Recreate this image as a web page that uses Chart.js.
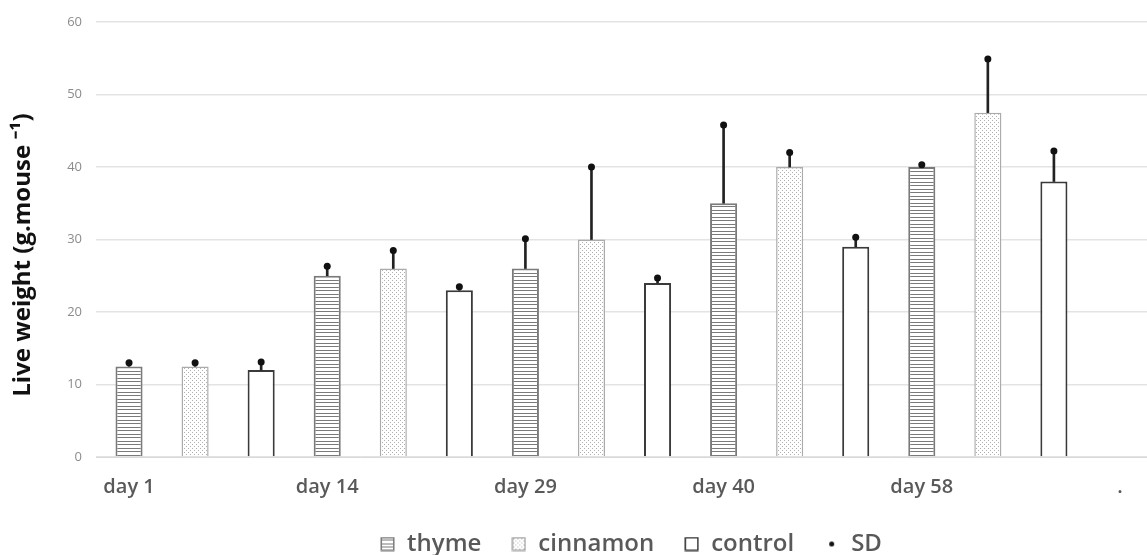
<!DOCTYPE html>
<html>
<head>
<meta charset="utf-8">
<script src="https://cdn.jsdelivr.net/npm/chart.js@4/dist/chart.umd.min.js"></script>
<style>
  html, body { margin: 0; padding: 0; background: #fff; overflow: hidden; }
  #wrap { width: 1160px; height: 568px; }
</style>
</head>
<body>
<div id="wrap"><canvas id="wykres"></canvas></div>
<script>
// dane
var tickLabels = ['day 1', '', '', 'day 14', '', '', 'day 29', '', '', 'day 40', '', '', 'day 58', '', '', '.'];
var thyme = [12.5, 25, 26, 35, 40];
var thymeSD = [0.5, 1.3, 4.1, 10.8, 0.3];
var cinnamon = [12.5, 26, 30, 40, 47.5];
var cinnamonSD = [0.5, 2.5, 10, 2, 7.4];
var control = [12, 23, 24, 29, 38];
var controlSD = [1.1, 0.5, 0.7, 1.3, 4.2];

Chart.defaults.font.family = "'Open Sans', sans-serif";

// rozklada 5 wartosci na 16 kategorii (co trzecia)
function rozloz(vals, off) {
	var out = [];
	for (var i = 0; i < tickLabels.length; i++) out.push(null);
	vals.forEach(function(v, i) { out[i * 3 + off] = v; });
	return out;
}

var stems = [];
var dots = [];
for (var i = 0; i < tickLabels.length; i++) { stems.push(null); dots.push(null); }
[[thyme, thymeSD, 0], [cinnamon, cinnamonSD, 1], [control, controlSD, 2]].forEach(function(s) {
	s[0].forEach(function(v, i) {
		stems[i * 3 + s[2]] = [v, v + s[1][i]];
		dots[i * 3 + s[2]] = v + s[1][i];
	});
});

// wzory wypelnienia
function paski() {
	var c = document.createElement('canvas');
	c.width = 4; c.height = 7;
	var g = c.getContext('2d');
	g.fillStyle = '#fff'; g.fillRect(0, 0, 4, 7);
	g.fillStyle = '#7a7a7a'; g.fillRect(0, 0, 4, 1); g.fillRect(0, 3, 4, 1);
	return c;
}
function kropki() {
	var c = document.createElement('canvas');
	c.width = 4; c.height = 4;
	var g = c.getContext('2d');
	g.fillStyle = '#fff'; g.fillRect(0, 0, 4, 4);
	g.fillStyle = '#b0b0b0'; g.fillRect(0, 0, 1, 1); g.fillRect(2, 2, 1, 1);
	return c;
}
var ctx = document.getElementById('wykres').getContext('2d');
var wzorPaski = ctx.createPattern(paski(), 'repeat');
var wzorKropki = ctx.createPattern(kropki(), 'repeat');

// ikonki legendy
function ikona(rodzaj) {
	var c = document.createElement('canvas');
	c.width = 15; c.height = 15;
	var g = c.getContext('2d');
	if (rodzaj === 'sd') {
		g.fillStyle = '#111';
		g.beginPath(); g.arc(7.5, 7.5, 2.5, 0, Math.PI * 2); g.fill();
		return c;
	}
	g.fillStyle = rodzaj === 'thyme' ? wzorPaski : rodzaj === 'cinnamon' ? wzorKropki : '#fff';
	g.fillRect(1, 1, 13, 13);
	g.strokeStyle = rodzaj === 'thyme' ? '#7a7a7a' : rodzaj === 'cinnamon' ? '#a8a8a8' : '#333';
	g.lineWidth = 1.5;
	g.strokeRect(1.25, 1.25, 12.5, 12.5);
	return c;
}
var ikony = { thyme: ikona('thyme'), cinnamon: ikona('cinnamon'), control: ikona('control'), SD: ikona('sd') };

var przesunLegende = {
	id: 'przesunLegende',
	afterLayout: function(chart) {
		var lg = chart.legend;
		var d = 631 - (lg.left + lg.right) / 2;
		lg.left += d; lg.right += d;
	}
};

var chartdata = {
	labels: tickLabels,
	datasets: [
		{
			label: 'thyme', data: rozloz(thyme, 0),
			backgroundColor: wzorPaski, borderColor: '#7a7a7a', borderWidth: 2,
			grouped: false, categoryPercentage: 1, barPercentage: 0.41, order: 3
		},
		{
			label: 'cinnamon', data: rozloz(cinnamon, 1),
			backgroundColor: wzorKropki, borderColor: '#ababab', borderWidth: 1.5,
			grouped: false, categoryPercentage: 1, barPercentage: 0.41, order: 3
		},
		{
			label: 'control', data: rozloz(control, 2),
			backgroundColor: '#fff', borderColor: '#3a3a3a', borderWidth: 2,
			grouped: false, categoryPercentage: 1, barPercentage: 0.41, order: 3
		},
		{
			label: 'stem', data: stems,
			backgroundColor: '#222', borderWidth: 0,
			grouped: false, barThickness: 2, order: 2
		},
		{
			type: 'line', label: 'SD', data: dots,
			showLine: false, pointRadius: 3.5, pointHoverRadius: 3.5,
			pointBackgroundColor: '#111', pointBorderColor: '#111', pointBorderWidth: 0,
			order: 1
		}
	]
};

new Chart(ctx, {
	type: 'bar',
	data: chartdata,
	plugins: [przesunLegende],
	options: {
		responsive: true,
		maintainAspectRatio: false,
		animation: false,
		layout: { padding: { top: 22, left: 8, right: 7, bottom: 2 } },
		plugins: {
			tooltip: { enabled: false },
			legend: {
				position: 'bottom',
				labels: {
					usePointStyle: true,
					boxWidth: 15, boxHeight: 15,
					padding: 30,
					color: '#595959',
					font: { size: 24, weight: '600' },
					filter: function(item) { return item.text !== 'stem'; },
					sort: function(a, b) { return a.datasetIndex - b.datasetIndex; },
					generateLabels: function(chart) {
						var items = Chart.defaults.plugins.legend.labels.generateLabels(chart);
						items.forEach(function(it) { it.pointStyle = ikony[it.text]; });
						return items;
					}
				}
			}
		},
		scales: {
			x: {
				grid: { display: false, drawTicks: false },
				border: { color: '#d9d9d9' },
				ticks: {
					autoSkip: false, maxRotation: 0, padding: 18,
					color: '#595959', font: { size: 20, weight: '600' }
				},
				afterFit: function(s) { s.height = 45; }
			},
			y: {
				min: 0, max: 60,
				grid: { color: '#e3e3e3', drawTicks: false, lineWidth: 1.5 },
				border: { display: false },
				ticks: { stepSize: 10, padding: 14, color: '#8c8c8c', font: { size: 13 } },
				title: {
					display: true,
					text: 'Live weight (g.mouse \u207B\u00B9)\u00A0\u00A0\u00A0\u00A0\u00A0',
					color: '#111',
					font: { size: 24, weight: 'bold' },
					padding: { top: 1, bottom: 0 }
				},
				afterFit: function(s) { s.width = 88; }
			}
		}
	}
});
</script>
</body>
</html>
